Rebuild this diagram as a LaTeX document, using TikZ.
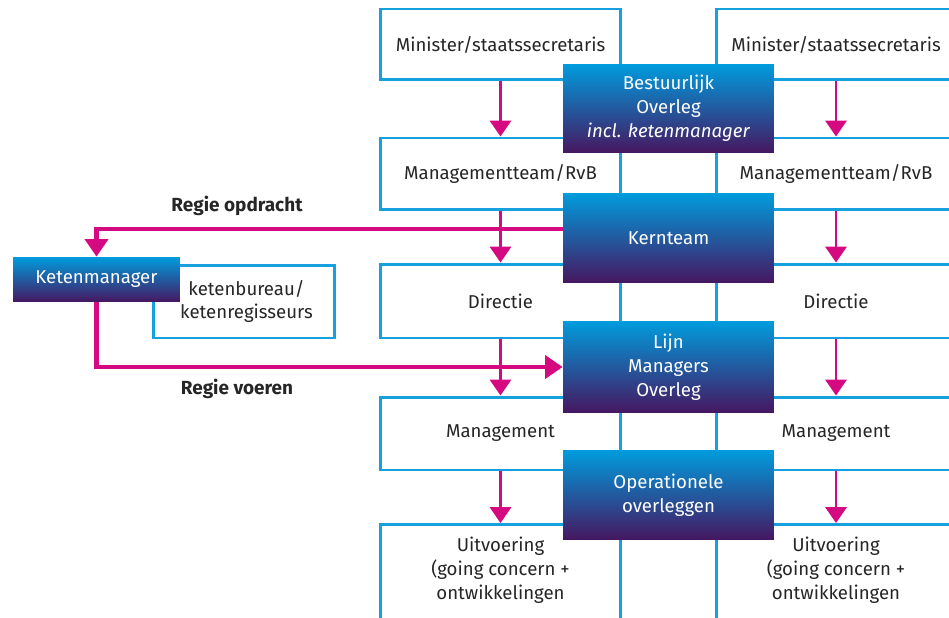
\documentclass[tikz,border=0pt]{standalone}
\usepackage{fontspec}
\setmainfont{Fira Sans}
\usetikzlibrary{arrows.meta}
\definecolor{kader}{RGB}{22,160,222}
\definecolor{regie}{RGB}{213,10,128}
\definecolor{ovtop}{RGB}{0,156,221}
\definecolor{ovbot}{RGB}{70,22,96}
\begin{document}
\begin{tikzpicture}[x=0.02cm, y=-0.02cm,
   font=\fontsize{10.6}{13.6}\selectfont, text=black!85,
   laag/.style={draw=kader, line width=1.7pt, fill=white, minimum width=4.8cm,
     align=center, inner sep=0pt},
   overleg/.style={top color=ovtop, bottom color=ovbot, text=white,
     minimum width=4.22cm, align=center, inner sep=0pt},
   pijl/.style={draw=regie, line width=1.5pt, -{Triangle[width=12pt,length=9pt]}},
   regiepijl/.style={draw=regie, line width=2.8pt, -{Triangle[width=13pt,length=10pt]}},
   regielabel/.style={font=\bfseries\fontsize{10.8}{13.6}\selectfont}]
    \useasboundingbox (0,0) rectangle (949,618);
    \clip (0,0) rectangle (949,618);
    \foreach \k/\x in {l/500.5,r/836}{
      \node[laag, minimum height=1.42cm] (min\k) at (\x,44.5) {Minister/staatssecretaris};
      \node[laag, minimum height=1.44cm] (mt\k) at (\x,174) {Managementteam/RvB};
      \node[laag, minimum height=1.48cm] (dir\k) at (\x,301) {Directie};
      \node[laag, minimum height=1.46cm] (man\k) at (\x,433.5) {Management};
      \node[laag, minimum height=2.7cm] (uitv\k) at (\x,592) {};
      \node[align=center] (uitvtekst\k) at (\x,570) {Uitvoering\\(going concern +\\ontwikkelingen};
    }
    \node[overleg, minimum height=1.78cm] (bo) at (668.5,108.5)
      {Bestuurlijk\\Overleg\\\textit{incl. ketenmanager}};
    \node[overleg, minimum height=1.8cm] (kern) at (668.5,238) {Kernteam};
    \node[overleg, minimum height=1.84cm] (lmo) at (668.5,367) {Lijn\\Managers\\Overleg};
    \node[overleg, minimum height=1.8cm] (ops) at (668.5,495) {Operationele\\overleggen};
    \foreach \k in {l,r}{
      \draw[pijl] (min\k) -- (mt\k);
      \draw[pijl] (mt\k) -- (dir\k);
      \draw[pijl] (dir\k) -- (man\k);
      \draw[pijl] (man\k) -- (uitv\k);
    }
    \node[laag, minimum width=3.64cm, minimum height=1.46cm] (kb) at (244,301.5)
      {\hspace*{0.1cm}ketenbureau/\\\hspace*{0.1cm}ketenregisseurs};
    \node[overleg, minimum width=3.34cm, minimum height=0.9cm] (km) at (96.5,279.5) {Ketenmanager};
    \draw[regiepijl] ([yshift=0.18cm]kern.west) -| (km.north);
    \draw[regiepijl] (km.south) |- (lmo.west);
    \node[regielabel] (opdracht) at (237,206) {Regie opdracht};
    \node[regielabel] (voeren) at (237,389) {Regie voeren};
\end{tikzpicture}
\end{document}
